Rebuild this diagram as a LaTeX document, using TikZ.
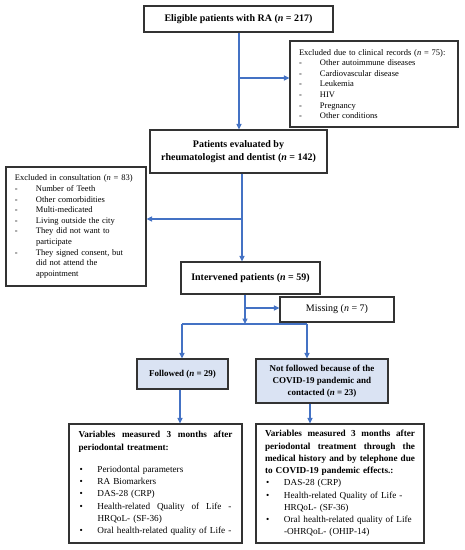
\documentclass[tikz,border=0pt]{standalone}
\usepackage{fontspec}
\setmainfont{Liberation Serif}
\usetikzlibrary{arrows.meta}
\definecolor{arrowblue}{HTML}{4472C4}
\definecolor{boxfill}{HTML}{DAE3F3}
\definecolor{boxline}{HTML}{333333}
\newcommand{\nn}{\textit{n}}
\newcommand{\dashitem}[1]{\makebox[21pt][l]{-}#1}
\newcommand{\bul}[1]{\makebox[19pt][l]{\hspace{1pt}•}#1}
\newcommand{\jl}[2]{\makebox[#1][s]{\spaceskip=0pt\xspaceskip=0pt\relax #2}}
\begin{document}
\begin{tikzpicture}[x=1pt,y=-1pt,
  box/.style={draw=boxline, line width=1.1pt, inner sep=0pt, align=center},
  fbox/.style={box, fill=boxfill},
  big/.style={font=\fontsize{10}{13}\selectfont\bfseries},
  mid/.style={font=\fontsize{9}{12}\selectfont\bfseries},
  small/.style={font=\fontsize{8.5}{10.6}\selectfont},
  var/.style={font=\fontsize{9.2}{12.25}\selectfont},
  arr/.style={draw=arrowblue, line width=1.1pt, -{Triangle[length=5.5pt,width=5pt]}},
  ln/.style={draw=arrowblue, line width=1.1pt}]
\useasboundingbox (0,0) rectangle (465,550);

\node[box, big, minimum width=189pt, minimum height=26pt] (b1) at (238.5,19) {Eligible patients with RA (\nn{} = 217)};
\node[box, big, minimum width=177pt, minimum height=43pt] (b2) at (238.5,151.5) {Patients evaluated by\\ rheumatologist and dentist (\nn{} = 142)};
\node[box, big, minimum width=139pt, minimum height=32pt] (b3) at (250.5,278) {Intervened patients (\nn{} = 59)};
\node[box, font=\fontsize{10}{12}\selectfont, minimum width=114pt, minimum height=25pt] (mi) at (337,309.5) {Missing (\nn{} = 7)};
\node[fbox, mid, minimum width=91pt, minimum height=30pt] (fo) at (182.5,374) {Followed (\nn{} = 29)};
\node[fbox, mid, minimum width=132pt, minimum height=44pt] (nf) at (322,381) {Not followed because of the\\ COVID-19 pandemic and\\ contacted (\nn{} = 23)};

\node[box, small, minimum width=168pt, minimum height=86pt, text width=150pt, align=left] (er) at (374,84) {%
Excluded due to clinical records (\nn{} = 75):\\
\dashitem{Other autoimmune diseases}\\
\dashitem{Cardiovascular disease}\\
\dashitem{Leukemia}\\
\dashitem{HIV}\\
\dashitem{Pregnancy}\\
\dashitem{Other conditions}};

\node[box, small, minimum width=140pt, minimum height=119pt, text width=122pt, align=left] (el) at (76,226.5) {%
Excluded in consultation (\nn{} = 83)\\
\dashitem{Number of Teeth}\\
\dashitem{Other comorbidities}\\
\dashitem{Multi-medicated}\\
\dashitem{Living outside the city}\\
\dashitem{They did not want to}\\
\hspace*{21pt}participate\\
\dashitem{They signed consent, but}\\
\hspace*{21pt}did not attend the\\
\hspace*{21pt}appointment};

\node[box, var, minimum width=173pt, minimum height=119pt, text width=154pt, align=left] (vl) at (155.5,483.5) {%
\textbf{\jl{154pt}{Variables measured 3 months after}}\\
\textbf{periodontal treatment:}\\[10pt]
\bul{Periodontal parameters}\\
\bul{RA Biomarkers}\\
\bul{DAS-28 (CRP)}\\
\bul{\jl{134pt}{Health-related Quality of Life -}}\\
\hspace*{19pt}HRQoL- (SF-36)\\
\bul{Oral health-related quality of Life -}};

\node[box, var, minimum width=168pt, minimum height=119pt, text width=150pt, align=left] (vr) at (340,483.5) {%
\textbf{\jl{150pt}{Variables measured 3 months after}}\\
\textbf{\jl{150pt}{periodontal treatment through the}}\\
\textbf{\jl{150pt}{medical history and by telephone due}}\\
\textbf{to COVID-19 pandemic effects.:}\\
\bul{DAS-28 (CRP)}\\
\bul{Health-related Quality of Life -}\\
\hspace*{19pt}HRQoL- (SF-36)\\
\bul{Oral health-related quality of Life}\\
\hspace*{19pt}-OHRQoL- (OHIP-14)};

% connectors
\coordinate (j1) at (239,78);
\draw[arr] (b1.south -| j1) -- (b2.north -| j1);
\draw[arr] (j1) -- (j1 -| er.west);

\coordinate (j2) at (242,219);
\draw[arr] (b2.south -| j2) -- (b3.north -| j2);
\draw[arr] (j2) -- (j2 -| el.east);

\coordinate (j3) at (245,308);
\coordinate (s) at (245,324);
\draw[arr] (b3.south -| j3) -- (s);
\draw[arr] (j3) -- (j3 -| mi.west);

\coordinate (sl) at (182,324);
\coordinate (sr) at (307,324);
\draw[ln] (sl) -- (sr);
\draw[arr] (sl) -- (sl |- fo.north);
\draw[arr] (sr) -- (sr |- nf.north);

\coordinate (fl) at (180,400);
\coordinate (fr) at (310,400);
\draw[arr] (fl |- fo.south) -- (fl |- vl.north);
\draw[arr] (fr |- nf.south) -- (fr |- vr.north);
\end{tikzpicture}
\end{document}
